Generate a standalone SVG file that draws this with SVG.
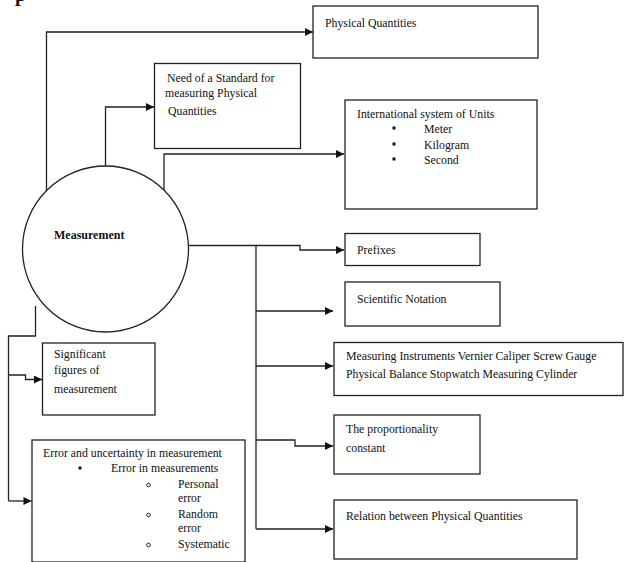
<svg xmlns="http://www.w3.org/2000/svg" width="624" height="562" viewBox="0 0 624 562">
  <style>
    .box { fill: #fff; stroke: #222; stroke-width: 1.3; }
    .wire { fill: none; stroke: #222; stroke-width: 1.3; marker-end: url(#arrow); }
    .plain { fill: none; stroke: #222; stroke-width: 1.3; }
    text { font-family: "Liberation Serif", "Times New Roman", serif; font-size: 11.8px; fill: #111; }
    .hub { font-weight: bold; font-size: 12px; }
  </style>
  <defs>
    <marker id="arrow" viewBox="0 0 10 10" refX="10" refY="5" markerWidth="10" markerHeight="8" markerUnits="userSpaceOnUse" orient="auto">
      <path d="M0,0 L10,5 L0,10 Z" fill="#111"/>
    </marker>
  </defs>

  <rect width="624" height="562" fill="#fff"/>
  <!-- tail of the page heading above the map -->
  <text x="15" y="1" style="font-weight:bold;font-size:20px">p</text>

  <!-- connectors -->
  <g id="connectors">
    <path class="wire" d="M46.5,196 V32 H313"/>
    <path class="wire" d="M105.5,166 V107 H154"/>
    <path class="wire" d="M164,195 V154 H344"/>
    <path class="plain" d="M188,245.5 H256 V529"/>
    <path class="wire" d="M256,245.5 H300 V250 H344"/>
    <path class="wire" d="M256,311 H333"/>
    <path class="wire" d="M256,366 H333"/>
    <path class="wire" d="M256,440 H295 V446 H333"/>
    <path class="wire" d="M256,529 H333"/>
    <path class="plain" d="M35.5,306 V336 H8.5 V501"/>
    <path class="wire" d="M8.5,501 H31.5"/>
    <path class="wire" d="M8.5,375 H25.5 V379.5 H42"/>
  </g>

  <!-- hub -->
  <g id="measurement">
    <circle cx="105.5" cy="249" r="83" fill="#fff" stroke="#222" stroke-width="1.3"/>
    <text class="hub" x="54" y="239">Measurement</text>
  </g>

  <g id="physical-quantities">
    <rect class="box" x="313" y="6" width="225" height="52"/>
    <text x="325" y="27">Physical Quantities</text>
  </g>

  <g id="need-standard">
    <rect class="box" x="154.5" y="63.5" width="146" height="85"/>
    <text x="167" y="82">Need of a Standard for</text>
    <text x="165" y="97">measuring Physical</text>
    <text x="168" y="115">Quantities</text>
  </g>

  <g id="si-units">
    <rect class="box" x="345" y="100" width="192" height="109"/>
    <text x="357" y="118">International system of Units</text>
    <rect x="392.5" y="126.5" width="3" height="3" fill="#111"/>
    <text x="424" y="133">Meter</text>
    <rect x="392.5" y="142.5" width="3" height="3" fill="#111"/>
    <text x="424" y="149">Kilogram</text>
    <rect x="392.5" y="157.5" width="3" height="3" fill="#111"/>
    <text x="424" y="164">Second</text>
  </g>

  <g id="prefixes">
    <rect class="box" x="345" y="233.5" width="135" height="32"/>
    <text x="357" y="254">Prefixes</text>
  </g>

  <g id="scientific-notation">
    <rect class="box" x="345" y="282" width="155" height="44"/>
    <text x="357" y="303">Scientific Notation</text>
  </g>

  <g id="measuring-instruments">
    <rect class="box" x="334" y="342.5" width="289" height="53"/>
    <text x="346" y="360">Measuring Instruments Vernier Caliper Screw Gauge</text>
    <text x="346" y="378">Physical Balance Stopwatch Measuring Cylinder</text>
  </g>

  <g id="proportionality">
    <rect class="box" x="334" y="415" width="146" height="59"/>
    <text x="346" y="433">The proportionality</text>
    <text x="346" y="452">constant</text>
  </g>

  <g id="relation">
    <rect class="box" x="334" y="500" width="243" height="59"/>
    <text x="346" y="520">Relation between Physical Quantities</text>
  </g>

  <g id="significant-figures">
    <rect class="box" x="42.5" y="343" width="112.5" height="72"/>
    <text x="54" y="358">Significant</text>
    <text x="54" y="374">figures of</text>
    <text x="54" y="393">measurement</text>
  </g>

  <g id="error-uncertainty">
    <rect class="box" x="32" y="440" width="213" height="122"/>
    <text x="43" y="457">Error and uncertainty in measurement</text>
    <rect x="78.5" y="466.5" width="3" height="3" fill="#111"/>
    <text x="111" y="472">Error in measurements</text>
    <circle cx="148.5" cy="485" r="1.8" fill="none" stroke="#111" stroke-width="0.9"/>
    <text x="178" y="488">Personal</text>
    <text x="178" y="502">error</text>
    <circle cx="148.5" cy="515" r="1.8" fill="none" stroke="#111" stroke-width="0.9"/>
    <text x="178" y="518">Random</text>
    <text x="178" y="532">error</text>
    <circle cx="148.5" cy="545" r="1.8" fill="none" stroke="#111" stroke-width="0.9"/>
    <text x="178" y="548">Systematic</text>
  </g>
</svg>
